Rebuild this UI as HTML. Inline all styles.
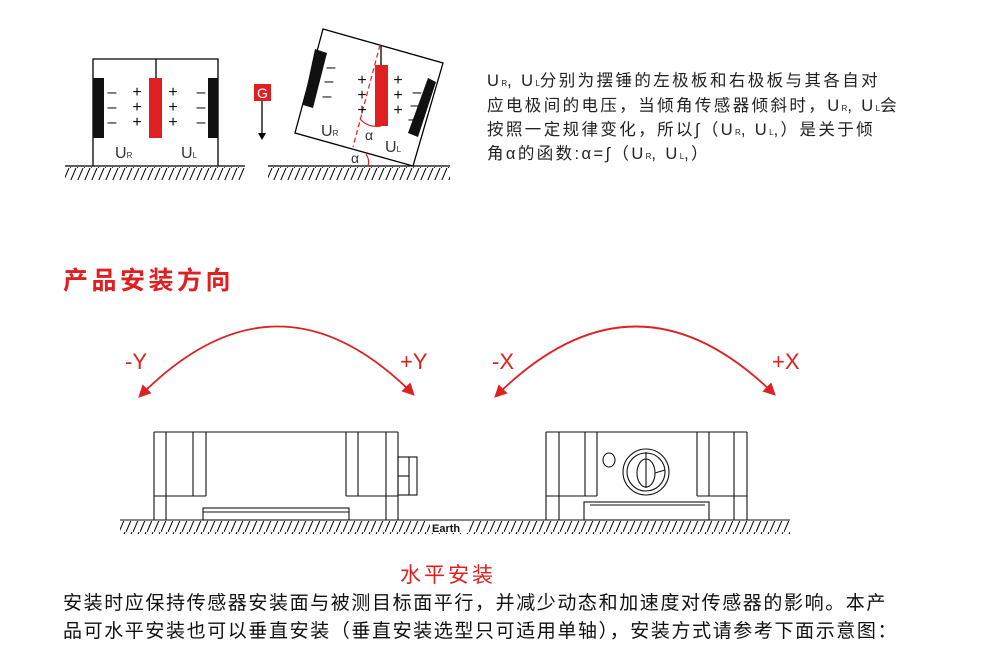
<!DOCTYPE html>
<html><head><meta charset="utf-8"><style>
body{margin:0;background:#fff;width:988px;height:660px;overflow:hidden;position:relative;font-family:"Liberation Sans","Noto Sans CJK SC",sans-serif}
.t{position:absolute;white-space:nowrap}
.r{font-size:16.5px;color:#222;letter-spacing:2.4px}
sub{font-size:8px;vertical-align:baseline;letter-spacing:0}
</style></head><body>
<svg width="988" height="660" style="position:absolute;left:0;top:0" font-family="Liberation Sans, sans-serif">
<defs>
<pattern id="h" width="7" height="14" patternUnits="userSpaceOnUse"><line x1="6" y1="0" x2="0" y2="14" stroke="#000" stroke-width="1"/></pattern>
<marker id="ar" viewBox="0 0 10 10" refX="8" refY="5" markerWidth="7" markerHeight="7" orient="auto-start-reverse"><path d="M0,0L10,5L0,10z" fill="#e02020"/></marker>
</defs>
<g stroke="#000" fill="none" stroke-width="1.3">
<line x1="65" y1="166" x2="245" y2="166"/>
<rect x="65" y="167" width="180" height="13" fill="url(#h)" stroke="none"/>
<polyline points="93,166 93,59 218,59 218,166"/>
<line x1="156" y1="59" x2="156" y2="78"/>
</g>
<rect x="93" y="78" width="11" height="60" fill="#111"/>
<rect x="208" y="78" width="10" height="60" fill="#111"/>
<rect x="149" y="78" width="13" height="60" fill="#e02020"/>
<g font-size="16" fill="#111" text-anchor="middle">
<text x="112" y="97">–</text><text x="112" y="112">–</text><text x="112" y="127">–</text>
<text x="137" y="97">+</text><text x="137" y="112">+</text><text x="137" y="127">+</text>
<text x="173" y="97">+</text><text x="173" y="112">+</text><text x="173" y="127">+</text>
<text x="201" y="97">–</text><text x="201" y="112">–</text><text x="201" y="127">–</text>
</g>
<text x="115" y="158" font-size="16" fill="#333">U<tspan font-size="8">R</tspan></text>
<text x="181" y="158" font-size="16" fill="#333">U<tspan font-size="8">L</tspan></text>
<rect x="254" y="84" width="17" height="17" fill="#e02020"/>
<text x="262.5" y="98" font-size="14" fill="#fff" text-anchor="middle">G</text>
<line x1="262" y1="101" x2="262" y2="134" stroke="#000" stroke-width="1.3"/>
<path d="M258,133L266,133L262,140z" fill="#000"/>
<g stroke="#000" fill="none" stroke-width="1.3">
<line x1="268" y1="166" x2="450" y2="166"/>
<polygon points="323,29 443,63 413,166 295,133"/>
<line x1="381" y1="46" x2="381" y2="65"/>
</g>
<rect x="268" y="167" width="182" height="13" fill="url(#h)"/>
<polygon points="315,49 327,53 313,108 303,105" fill="#111"/>
<polygon points="428,78 436,82 418,137 408,133" fill="#111"/>
<rect x="375" y="65" width="13" height="61" fill="#e02020"/>
<line x1="380" y1="45" x2="353" y2="147" stroke="#e02020" stroke-width="1.2" stroke-dasharray="5,3"/>
<path d="M360,119 Q368,128 381,126" stroke="#e02020" fill="none" stroke-width="1.2"/>
<path d="M366,154 Q370,160 368,166" stroke="#e02020" fill="none" stroke-width="1.2"/>
<g font-size="16" fill="#111" text-anchor="middle">
<text x="331" y="72">–</text><text x="329" y="86">–</text><text x="327" y="101">–</text>
<text x="362" y="85">+</text><text x="362" y="100">+</text><text x="362" y="115">+</text>
<text x="398" y="85">+</text><text x="398" y="100">+</text><text x="398" y="115">+</text>
<text x="417" y="97">–</text><text x="415" y="110">–</text><text x="413" y="124">–</text>
</g>
<text x="321" y="136" font-size="16" fill="#333">U<tspan font-size="8">R</tspan></text>
<text x="385" y="152" font-size="16" fill="#333">U<tspan font-size="8">L</tspan></text>
<text x="365" y="140" font-size="14" fill="#333">α</text>
<text x="351" y="163" font-size="14" fill="#333">α</text>
<path d="M140,396 Q277,258 413,394" stroke="#e02020" stroke-width="1.8" fill="none" marker-start="url(#ar)" marker-end="url(#ar)"/>
<path d="M496,396 Q635,258 774,394" stroke="#e02020" stroke-width="1.8" fill="none" marker-start="url(#ar)" marker-end="url(#ar)"/>
<g font-size="22" fill="#e02020">
<text x="125" y="369">-Y</text><text x="400" y="369">+Y</text>
<text x="492" y="369">-X</text><text x="772" y="369">+X</text>
</g>
<g stroke="#111" fill="none" stroke-width="1.1">
<line x1="120" y1="520" x2="790" y2="520"/>
<line x1="154" y1="432" x2="398" y2="432"/>
<line x1="154" y1="432" x2="154" y2="520"/><line x1="166" y1="432" x2="166" y2="520"/>
<line x1="193" y1="432" x2="193" y2="496"/><line x1="206" y1="432" x2="206" y2="496"/>
<line x1="154" y1="496" x2="206" y2="496"/>
<line x1="346" y1="432" x2="346" y2="496"/><line x1="358" y1="432" x2="358" y2="496"/>
<line x1="386" y1="432" x2="386" y2="520"/><line x1="398" y1="432" x2="398" y2="520"/>
<line x1="346" y1="496" x2="398" y2="496"/>
<rect x="203" y="508" width="146" height="12"/><line x1="203" y1="512" x2="349" y2="512"/>
<rect x="398" y="457" width="19" height="38"/><line x1="409" y1="457" x2="409" y2="495"/><line x1="398" y1="476" x2="409" y2="476"/>
<line x1="546" y1="432" x2="747" y2="432"/>
<line x1="546" y1="432" x2="546" y2="520"/><line x1="559" y1="432" x2="559" y2="520"/>
<line x1="585" y1="432" x2="585" y2="496"/><line x1="597" y1="432" x2="597" y2="496"/>
<line x1="546" y1="496" x2="597" y2="496"/>
<line x1="697" y1="432" x2="697" y2="496"/><line x1="709" y1="432" x2="709" y2="496"/>
<line x1="734" y1="432" x2="734" y2="520"/><line x1="747" y1="432" x2="747" y2="520"/>
<line x1="697" y1="496" x2="747" y2="496"/>
<rect x="584" y="502" width="125" height="18"/><line x1="590" y1="505" x2="705" y2="505"/>
<ellipse cx="609" cy="460" rx="6" ry="7"/>
<circle cx="646" cy="472" r="23"/><circle cx="646" cy="472" r="19"/>
<ellipse cx="646" cy="473" rx="9" ry="14"/>
<line x1="646" y1="452" x2="646" y2="488"/><line x1="655" y1="473" x2="665" y2="470"/>
</g>
<rect x="120" y="521" width="670" height="13" fill="url(#h)"/>
<rect x="430" y="521" width="38" height="12" fill="#fff"/>
<text x="432" y="532" font-size="11" font-weight="bold" fill="#111">Earth</text>
</svg>
<div class="t r" style="left:487px;top:67px">U<sub>R</sub>, U<sub>L</sub>分别为摆锤的左极板和右极板与其各自对</div>
<div class="t r" style="left:487px;top:92px">应电极间的电压，当倾角传感器倾斜时，U<sub>R</sub>, U<sub>L</sub>会</div>
<div class="t r" style="left:487px;top:116px">按照一定规律变化，所以∫（U<sub>R</sub>, U<sub>L</sub>,）是关于倾</div>
<div class="t r" style="left:487px;top:140px">角α的函数:α=∫（U<sub>R</sub>, U<sub>L</sub>,）</div>
<div class="t" style="left:63px;top:261px;font-size:25px;letter-spacing:3.5px;font-weight:bold;color:#e02020">产品安装方向</div>
<div class="t" style="left:400px;top:559px;font-size:21px;letter-spacing:3px;color:#e02020">水平安装</div>
<div class="t" style="left:63px;top:588px;font-size:19px;letter-spacing:1.6px;color:#111">安装时应保持传感器安装面与被测目标面平行，并减少动态和加速度对传感器的影响。本产</div>
<div class="t" style="left:63px;top:616px;font-size:19px;letter-spacing:1.6px;color:#111">品可水平安装也可以垂直安装（垂直安装选型只可适用单轴），安装方式请参考下面示意图：</div>
</body></html>
